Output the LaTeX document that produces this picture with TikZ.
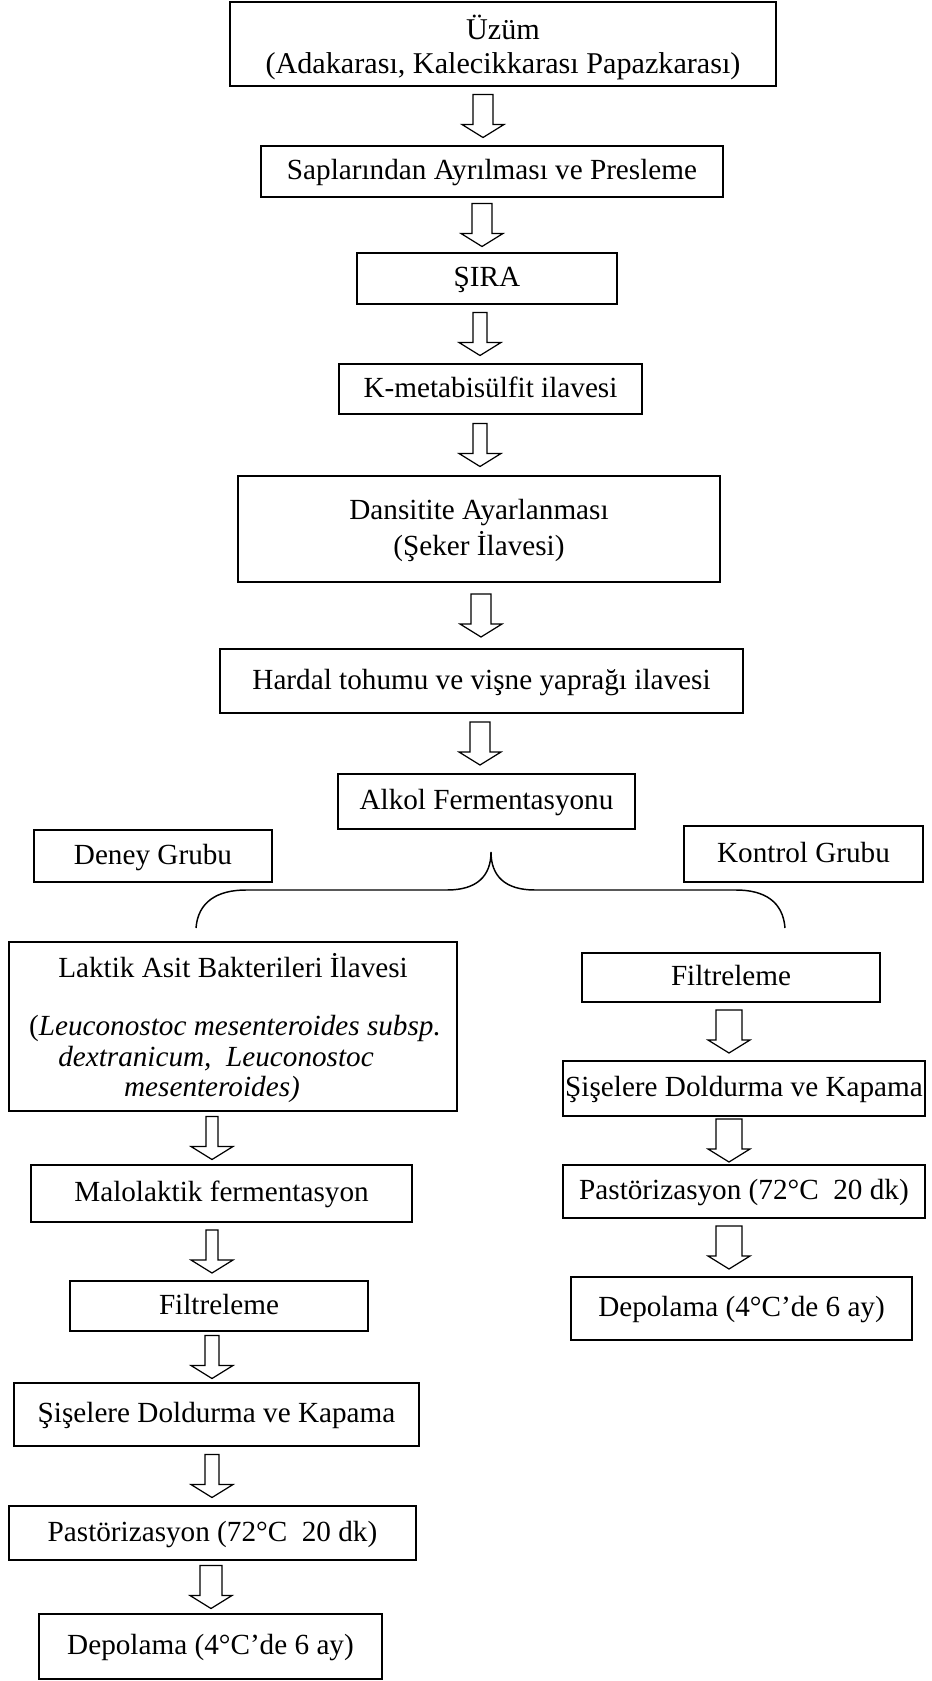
\documentclass[tikz,border=0pt]{standalone}
\usepackage{fontspec}
\setmainfont{Liberation Serif}
\usetikzlibrary{fit,calc}
\def\u{0.411pt}
% block arrow between two named nodes: #1 from, #2 to, #3 x centre (px), #4 shaft half width (px)
\newcommand\blockarrow[4]{%
  \draw[barrow] let \p1=($(#1.south)!0.5!(#2.north)$), \p2=(#3,0) in
    (\x2-#4*\u,\y1+21.5*\u) -- (\x2-#4*\u,\y1-8.5*\u) -- (\x2-21*\u,\y1-8.5*\u)
    -- (\x2,\y1-21.5*\u) -- (\x2+21*\u,\y1-8.5*\u) -- (\x2+#4*\u,\y1-8.5*\u)
    -- (\x2+#4*\u,\y1+21.5*\u) -- cycle;}
% box with centred one-line text
\newcommand\bx[6]{\node[box, fit={(#2,#3) (#4,#5)}] (#1) {};
  \node[boxtext] (#1-t) at (#1.center) {#6};}
% empty box (text placed separately)
\newcommand\bxe[5]{\node[box, fit={(#2,#3) (#4,#5)}] (#1) {};}
\begin{document}
\begin{tikzpicture}[x=0.411pt, y=-0.411pt,
  font=\fontsize{12}{14}\selectfont,
  box/.style={draw, line width=0.75pt, inner sep=0pt},
  boxtext/.style={inner sep=0pt, text height=0.9em, text depth=0.24em},
  txt/.style={anchor=base, inner sep=0pt},
  barrow/.style={draw, line width=0.5pt, fill=white, line join=miter},
  brace/.style={draw, line width=0.6pt}]
\path[fill=white, use as bounding box] (0,0) rectangle (931,1681);

% main column
\bxe{uzum}{230}{2}{776}{86}
\node[txt, font=\fontsize{12.4}{14}\selectfont] (uzumA) at (503,40) {Üzüm};
\node[txt, font=\fontsize{12.4}{14}\selectfont] (uzumB) at (503,74) {(Adakarası, Kalecikkarası Papazkarası)};
\bx{sap}{261}{146}{723}{197}{Saplarından Ayrılması ve Presleme}
\bx{sira}{357}{253}{617}{304}{ŞIRA}
\bx{kmeta}{339}{364}{642}{414}{K-metabisülfit ilavesi}
\bxe{dans}{238}{476}{720}{582}
\node[txt] (dansA) at (479,519) {Dansitite Ayarlanması};
\node[txt] (dansB) at (479,555) {(Şeker İlavesi)};
\bx{hardal}{220}{649}{743}{713}{Hardal tohumu ve vişne yaprağı ilavesi}
\bx{alkol}{338}{774}{635}{829}{Alkol Fermentasyonu}
\bx{deney}{34}{830}{272}{882}{Deney Grubu}
\bx{kontrol}{684}{826}{923}{882}{Kontrol Grubu}

\blockarrow{uzum}{sap}{483}{10}
\blockarrow{sap}{sira}{482}{10}
\blockarrow{sira}{kmeta}{480}{7}
\blockarrow{kmeta}{dans}{480}{7}
\blockarrow{dans}{hardal}{481}{10}
\blockarrow{hardal}{alkol}{480}{10}

% brace
\coordinate (bl) at (196,928);
\coordinate (bt) at (491,852);
\coordinate (br) at (785,928);
\draw[brace] (bl) .. controls (198,902) and (217,890) .. (246,890) -- (447,890)
  .. controls (477,890) and (491,876) .. (bt)
  .. controls (491,876) and (505,890) .. (535,890) -- (736,890)
  .. controls (765,890) and (783,902) .. (br);

% left column (Deney)
\bxe{laktik}{9}{942}{457}{1111}
\node[txt] (lakA) at (233,977) {Laktik Asit Bakterileri İlavesi};
\node[txt] (lakB) at (235,1035) {(\textit{Leuconostoc mesenteroides subsp.}};
\node[txt] (lakC) at (216,1066) {\textit{dextranicum,\ \ Leuconostoc}};
\node[txt] (lakD) at (212,1096) {\textit{mesenteroides)}};
\bx{malo}{31}{1165}{412}{1222}{Malolaktik fermentasyon}
\bx{filtL}{70}{1281}{368}{1331}{Filtreleme}
\bx{sisL}{14}{1383}{419}{1446}{Şişelere Doldurma ve Kapama}
\bx{pastL}{9}{1506}{416}{1560}{Pastörizasyon (72°C\ \ 20 dk)}
\bx{depL}{39}{1614}{382}{1679}{Depolama (4°C’de 6 ay)}

\blockarrow{laktik}{malo}{212}{6}
\blockarrow{malo}{filtL}{212}{6}
\blockarrow{filtL}{sisL}{212}{7}
\blockarrow{sisL}{pastL}{212}{7}
\blockarrow{pastL}{depL}{211}{11}

% right column (Kontrol)
\bx{filtR}{582}{953}{880}{1002}{Filtreleme}
\bx{sisR}{563}{1061}{925}{1116}{Şişelere Doldurma ve Kapama}
\bx{pastR}{563}{1165}{925}{1218}{Pastörizasyon (72°C\ \ 20 dk)}
\bx{depR}{571}{1277}{912}{1340}{Depolama (4°C’de 6 ay)}

\blockarrow{filtR}{sisR}{729}{13}
\blockarrow{sisR}{pastR}{729}{13}
\blockarrow{pastR}{depR}{729}{13}
\end{tikzpicture}
\end{document}
